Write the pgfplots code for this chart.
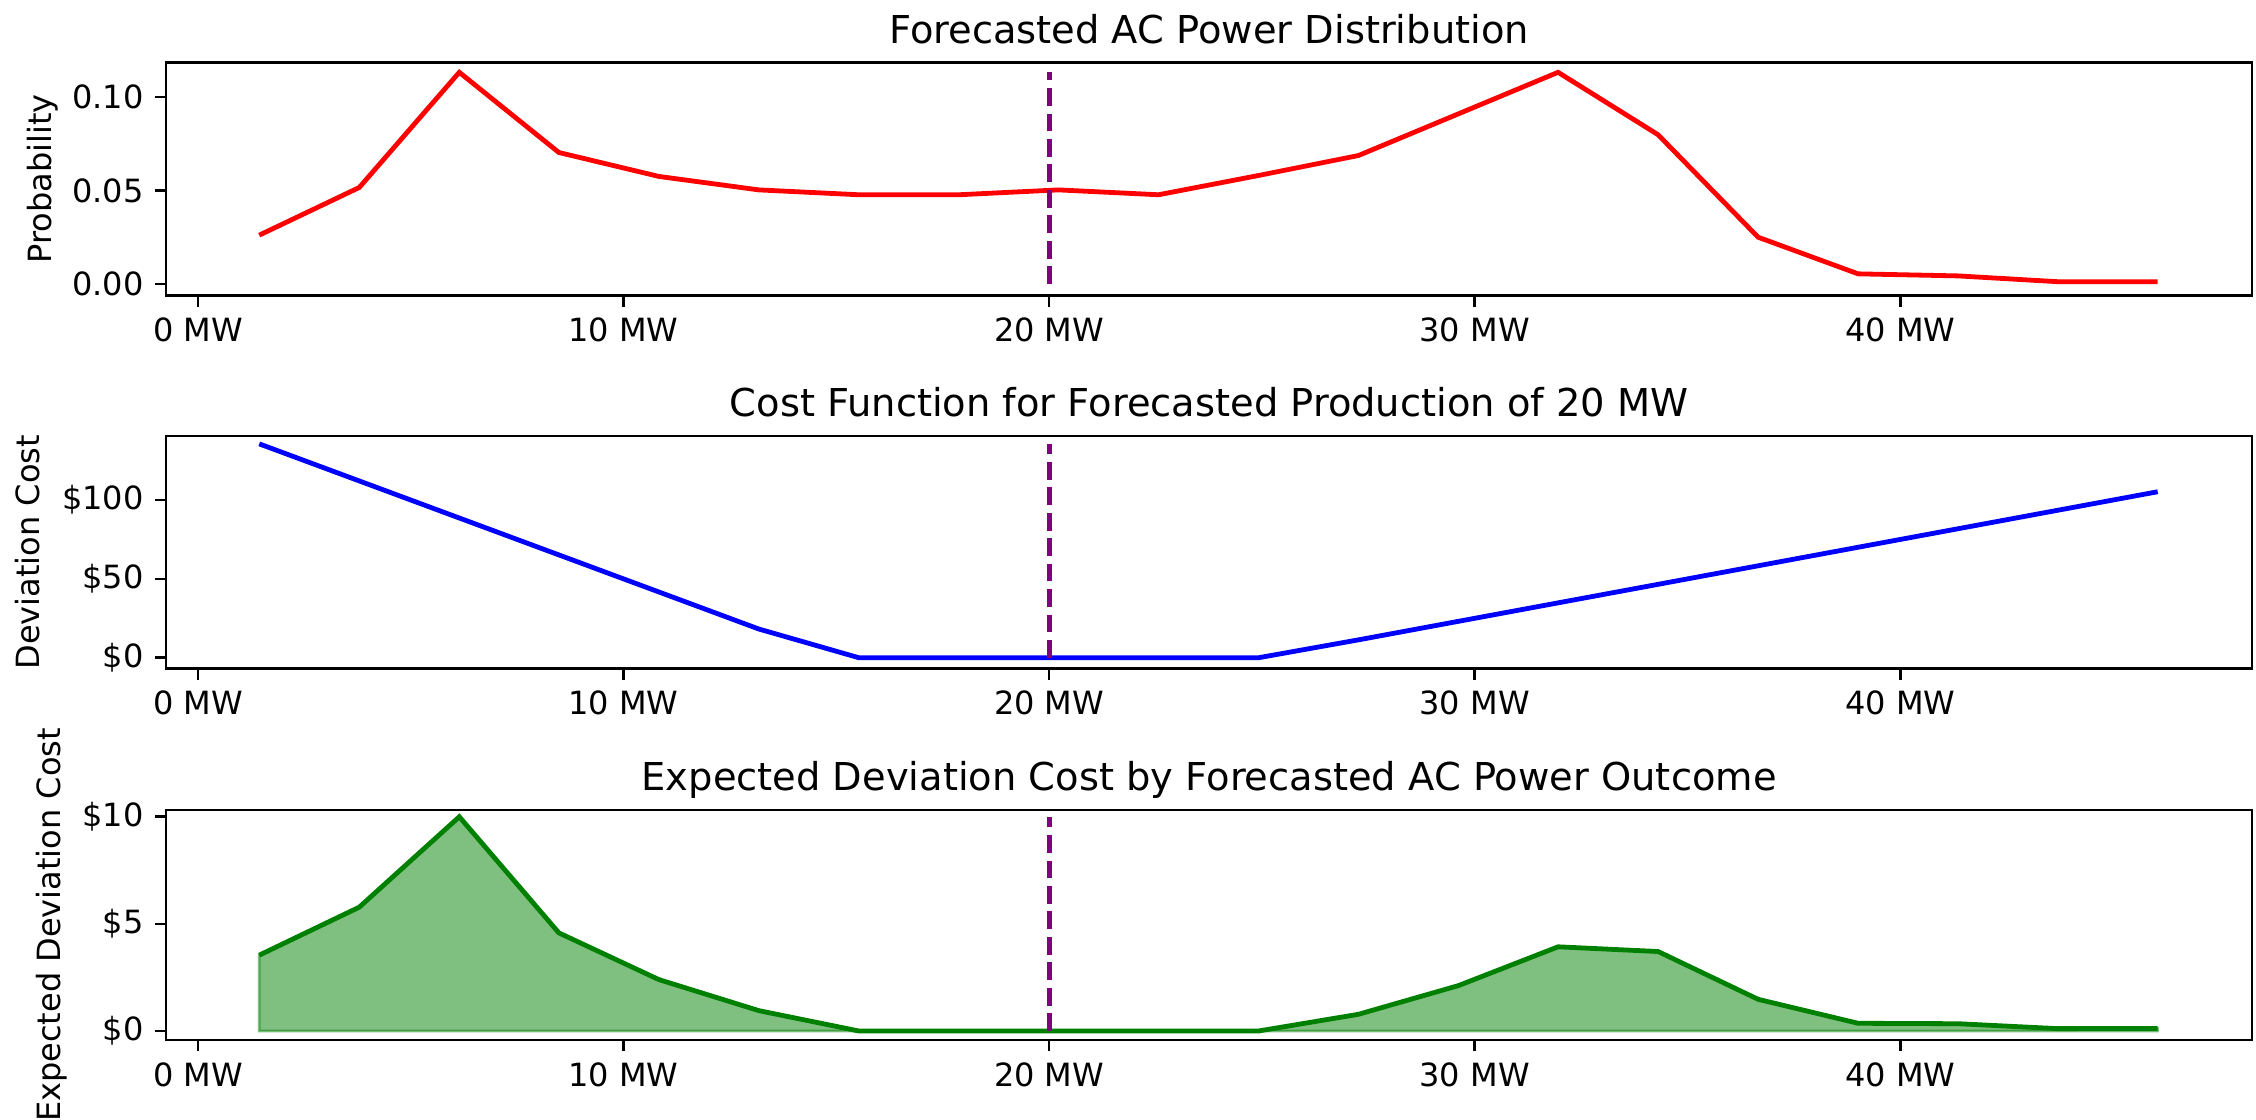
\documentclass[border=0pt]{standalone}
\usepackage{fontspec}
\setmainfont{DejaVu Sans}
\usepackage{pgfplots}
\pgfplotsset{compat=1.18}

\definecolor{mplred}{RGB}{255,0,0}
\definecolor{mplblue}{RGB}{0,0,255}
\definecolor{mplgreen}{RGB}{0,128,0}
\definecolor{mplpurple}{RGB}{128,0,128}

% common look of the three panels
\pgfplotsset{
  panel/.style={
    scale only axis, width=651.9pt,
    xmin=-0.75, xmax=48.27,
    xtick={0,10,20,30,40},
    xticklabels={0 MW,10 MW,20 MW,30 MW,40 MW},
    tick align=outside, major tick length=3.5pt,
    xtick pos=lower, ytick pos=left,
    axis line style={line width=0.8pt},
    every tick/.style={black, line width=0.8pt},
    tick label style={font=\fontsize{10}{12}\selectfont},
    title style={font=\fontsize{12}{14}\selectfont, at={(0.5,1)}, anchor=base},
    every axis y label/.style={rotate=90, anchor=base, font=\fontsize{10}{12}\selectfont},
    anchor=north west,
  },
  vline/.style={mplpurple, line width=1.5pt, dash pattern=on 5.55pt off 2.4pt},
}

\begin{document}
\begin{tikzpicture}

% probability of each outcome
\begin{axis}[panel, at={(51.9pt,-19.5pt)}, height=72.8pt,
  ymin=-0.0061, ymax=0.1185,
  ytick={0,0.05,0.10}, yticklabels={0.00,0.05,0.10},
  title={Forecasted AC Power Distribution},
  ylabel={Probability},
  ylabel style={at={(axis description cs:-0.0548,0.5)}},
]
\addplot[mplred, line width=1.5pt] coordinates {
  (1.44,0.0261) (3.79,0.0516) (6.14,0.1132) (8.48,0.0703) (10.83,0.0575)
  (13.18,0.0503) (15.53,0.0477) (17.88,0.0477) (20.22,0.0503) (22.57,0.0477)
  (24.92,0.0580) (27.27,0.0687) (29.62,0.0910) (31.96,0.1132) (34.31,0.0798)
  (36.66,0.0250) (39.01,0.0054) (41.36,0.0043) (43.70,0.0012) (46.05,0.0012)
};
\addplot[vline] coordinates {(20,0) (20,0.1132)};
\end{axis}

% cost of missing the 20 MW forecast
\begin{axis}[panel, at={(51.9pt,-136.25pt)}, height=72.6pt,
  ymin=-6.7, ymax=140.6,
  ytick={0,50,100}, yticklabels={\$0,\$50,\$100},
  title={Cost Function for Forecasted Production of 20 MW},
  ylabel={Deviation Cost},
  ylabel style={at={(axis description cs:-0.0607,0.5)}},
]
\addplot[mplblue, line width=1.5pt] coordinates {
  (1.44,135.6) (3.79,112.1) (6.14,88.6) (8.48,65.2) (10.83,41.7)
  (13.18,18.2) (15.53,0) (17.88,0) (20.22,0) (22.57,0)
  (24.92,0) (27.27,11.35) (29.62,23.1) (31.96,34.8) (34.31,46.55)
  (36.66,58.3) (39.01,70.05) (41.36,81.8) (43.70,93.5) (46.05,105.25)
};
\addplot[vline] coordinates {(20,0) (20,135.6)};
\end{axis}

% probability times cost
\begin{axis}[panel, at={(51.9pt,-253.1pt)}, height=71.9pt,
  ymin=-0.42, ymax=10.32,
  ytick={0,5,10}, yticklabels={\$0,\$5,\$10},
  title={Expected Deviation Cost by Forecasted AC Power Outcome},
  ylabel={Expected Deviation Cost},
  ylabel style={at={(axis description cs:-0.0508,0.5)}},
]
\addplot[fill=mplgreen, fill opacity=0.5, draw=mplgreen, draw opacity=0.5, line width=0.8pt] coordinates {
  (1.44,3.54) (3.79,5.78) (6.14,10.0) (8.48,4.58) (10.83,2.40)
  (13.18,0.95) (15.53,0) (17.88,0) (20.22,0) (22.57,0)
  (24.92,0) (27.27,0.78) (29.62,2.12) (31.96,3.93) (34.31,3.71)
  (36.66,1.48) (39.01,0.36) (41.36,0.34) (43.70,0.11) (46.05,0.12)
} \closedcycle;
\addplot[mplgreen, line width=1.5pt] coordinates {
  (1.44,3.54) (3.79,5.78) (6.14,10.0) (8.48,4.58) (10.83,2.40)
  (13.18,0.95) (15.53,0) (17.88,0) (20.22,0) (22.57,0)
  (24.92,0) (27.27,0.78) (29.62,2.12) (31.96,3.93) (34.31,3.71)
  (36.66,1.48) (39.01,0.36) (41.36,0.34) (43.70,0.11) (46.05,0.12)
};
\addplot[vline] coordinates {(20,0) (20,10.0)};
\end{axis}

\pgfresetboundingbox
\path[use as bounding box] (0,0) rectangle (705pt,-349.7pt);
\end{tikzpicture}
\end{document}
